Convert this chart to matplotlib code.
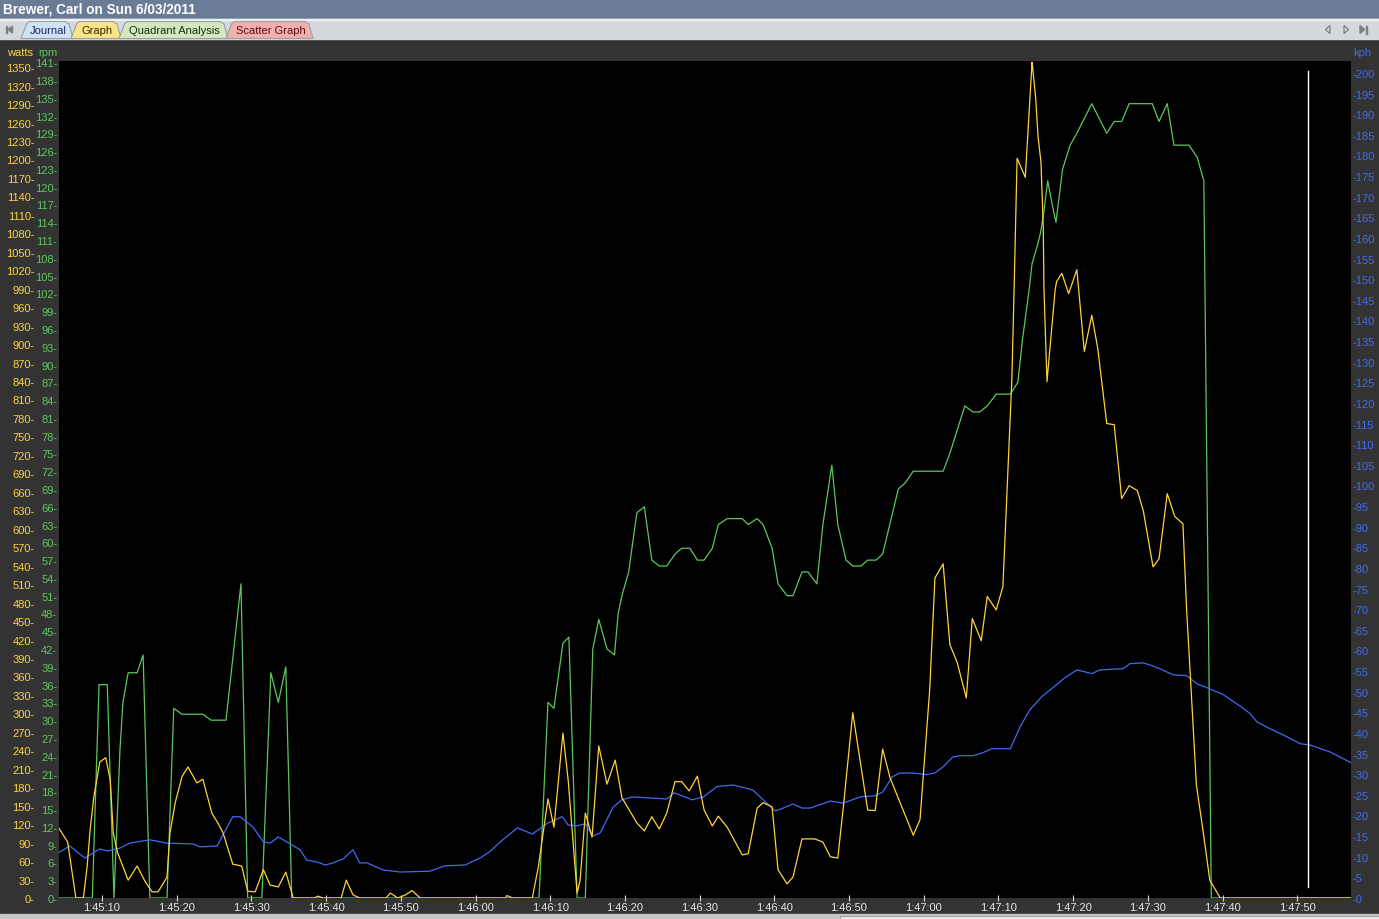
import matplotlib
matplotlib.use("Agg")
import matplotlib.pyplot as plt
from matplotlib.patches import Rectangle, Polygon

plt.rcParams['font.family'] = ['Liberation Sans', 'DejaVu Sans']

# Time is seconds after 1:45:00
watts_t = [4.2, 5.4, 6.5, 7.5, 8.0, 8.4, 8.9, 9.7, 10.5, 11.1,
           11.5, 12.1, 13.5, 14.7, 15.8, 16.7, 17.5, 18.7, 19.1, 19.8,
           20.7, 21.5, 22.7, 23.5, 24.7, 25.5, 26.2, 27.5, 28.7, 29.5,
           30.5, 31.6, 32.5, 33.6, 34.6, 35.6, 38.4, 38.9, 39.6, 42.0,
           42.7, 43.6, 44.5, 48.0, 48.6, 49.6, 50.6, 51.5, 52.6, 64.0,
           64.2, 65.0, 67.6, 68.4, 69.7, 70.5, 71.7, 72.4, 73.6, 74.0,
           74.7, 75.6, 76.5, 77.6, 78.7, 79.6, 81.6, 82.6, 83.6, 84.6,
           85.6, 86.7, 87.6, 88.6, 89.7, 90.6, 91.7, 92.5, 93.7, 95.7,
           96.5, 97.7, 98.5, 99.7, 100.5, 101.7, 102.5, 103.7, 105.4, 106.5,
           107.5, 108.5, 109.3, 110.5, 112.5, 113.5, 114.5, 115.5, 118.6, 119.5,
           120.8, 121.5, 122.6, 123.5, 124.5, 125.7, 126.5, 127.7, 128.5, 129.7,
           130.6, 131.8, 132.1, 132.5, 133.6, 133.8, 134.2, 134.5, 134.6, 135.0,
           135.3, 135.7, 136.0, 136.1, 136.5, 137.6, 137.8, 138.5, 139.4, 140.5,
           141.5, 142.5, 143.3, 144.5, 145.5, 146.5, 147.5, 148.6, 149.4, 150.7,
           151.5, 152.6, 153.6, 154.7, 155.2, 155.6, 156.5, 157.3, 158.3, 159.7,
           177.2]
watts = [114, 91, 0, 0, 50, 110, 164, 221, 228, 192,
         106, 73, 29, 52, 26, 10, 10, 34, 106, 155,
         197, 213, 187, 193, 138, 122, 106, 55, 52, 11,
         10, 46, 21, 18, 42, 0, 0, 3, 0, 0,
         29, 5, 0, 0, 8, 0, 5, 12, 0, 0,
         4, 0, 0, 50, 161, 115, 268, 192, 8, 29,
         138, 99, 247, 185, 224, 163, 122, 109, 132, 112,
         138, 189, 189, 174, 198, 143, 117, 133, 115, 70,
         72, 146, 155, 148, 46, 23, 34, 96, 96, 91,
         67, 65, 155, 301, 143, 142, 242, 195, 102, 127,
         338, 520, 543, 412, 382, 325, 454, 418, 490, 468,
         506, 843, 989, 1202, 1171, 1212, 1293, 1358, 1347, 1298,
         1238, 1195, 1091, 989, 839, 989, 1002, 1015, 982, 1021,
         888, 947, 893, 771, 769, 649, 670, 662, 629, 538,
         551, 657, 620, 608, 467, 381, 184, 117, 29, 0,
         0]

rpm_t = [4.2, 8.7, 9.6, 10.7, 11.6, 12.4, 12.8, 13.5, 14.7, 15.5,
         16.4, 18.7, 19.6, 20.7, 23.5, 24.6, 26.6, 28.6, 29.5, 31.4,
         32.6, 33.6, 34.6, 35.4, 68.5, 69.7, 70.5, 71.7, 72.5, 73.6,
         74.7, 75.7, 76.5, 77.6, 78.6, 79.1, 79.6, 80.5, 81.6, 82.6,
         83.6, 84.6, 85.6, 86.7, 87.6, 88.7, 89.7, 90.6, 91.7, 92.5,
         93.7, 95.7, 96.5, 97.7, 98.5, 99.7, 100.5, 101.7, 102.5, 103.7,
         104.5, 105.7, 106.5, 107.7, 108.5, 109.6, 110.5, 111.6, 112.5, 113.6,
         114.5, 116.6, 117.5, 118.6, 122.6, 123.5, 125.5, 126.6, 127.5, 128.5,
         129.7, 131.6, 132.6, 133.2, 134.1, 134.5, 135.2, 135.6, 136.0, 136.3,
         136.6, 137.2, 137.7, 138.0, 138.5, 138.6, 139.6, 140.5, 141.3, 142.5,
         143.5, 144.5, 145.5, 146.5, 147.5, 150.6, 151.5, 152.6, 153.5, 155.5,
         156.6, 157.5, 158.5, 177.2]
rpm = [0, 0, 36, 36, 0, 25, 33, 38, 38, 41,
       0, 0, 32, 31, 31, 30, 30, 53, 0, 0,
       38, 33, 39, 0, 0, 33, 32, 43, 44, 0,
       0, 42, 47, 42, 41, 48, 51, 55, 65, 66,
       57, 56, 56, 58, 59, 59, 57, 57, 59, 63,
       64, 64, 63, 64, 63, 59, 53, 51, 51, 55,
       55, 53, 63, 73, 63, 57, 56, 56, 57, 57,
       58, 69, 70, 72, 72, 75, 83, 82, 82, 83,
       85, 85, 87, 94, 102.5, 107, 110, 112, 115, 118,
       121, 117, 114, 117, 122, 123, 127, 129, 131, 134,
       131.5, 129, 131, 131, 134, 134, 131, 134, 127, 127,
       125, 121, 0, 0]

kph_t = [4.2, 5.7, 7.7, 9.7, 10.7, 12.4, 13.7, 16.4, 18.7, 22.2,
         23.1, 25.4, 27.5, 28.5, 30.2, 31.6, 32.5, 33.6, 35.2, 36.5,
         37.4, 38.8, 39.9, 40.9, 42.3, 43.6, 44.5, 45.5, 47.6, 49.9,
         53.9, 55.9, 58.6, 60.6, 61.9, 63.3, 65.6, 67.6, 69.7, 71.6,
         72.4, 73.6, 74.7, 75.7, 76.7, 78.4, 79.6, 81.0, 85.6, 86.6,
         87.6, 89.0, 90.5, 92.3, 94.5, 97.1, 99.0, 100.1, 101.2, 102.5,
         103.7, 104.8, 107.5, 109.2, 111.5, 113.5, 114.5, 115.8, 116.8, 118.6,
         120.4, 121.5, 122.6, 123.9, 124.9, 126.6, 127.9, 129.1, 131.6, 132.9,
         134.2, 135.8, 137.3, 138.9, 140.5, 142.5, 143.6, 146.7, 147.6, 149.4,
         150.6, 151.6, 153.4, 155.2, 156.6, 157.9, 160.1, 162.3, 163.7, 164.6,
         166.4, 168.6, 170.4, 171.7, 174.4, 177.2]
kph = [11.0, 12.6, 9.7, 11.9, 11.4, 12.1, 13.3, 14.1, 13.3, 13.1,
       12.4, 12.6, 19.7, 19.7, 17.2, 13.6, 13.3, 14.8, 13.1, 11.7,
       9.2, 8.7, 8.0, 8.5, 9.5, 11.7, 8.5, 8.5, 6.8, 6.3,
       6.5, 7.8, 8.0, 9.7, 11.2, 13.6, 17.0, 15.5, 18.2, 19.7,
       17.7, 17.5, 18.0, 15.0, 15.8, 22.0, 23.8, 24.5, 24.0, 25.5,
       24.8, 23.8, 24.5, 27.0, 27.4, 26.2, 23.0, 21.1, 21.8, 22.8,
       21.8, 21.8, 23.5, 23.0, 24.5, 24.8, 25.7, 29.4, 30.3, 30.3,
       29.9, 30.3, 31.8, 34.2, 34.5, 34.5, 35.2, 36.2, 36.2, 41.5,
       45.6, 48.8, 51.0, 53.4, 55.3, 54.4, 55.3, 55.6, 56.8, 57.0,
       56.3, 55.6, 54.1, 53.9, 51.9, 51.0, 49.3, 46.6, 44.7, 42.7,
       41.0, 39.1, 37.4, 37.1, 35.4, 32.8]

cursor_t = 171.4
time_ticks = list(range(10, 171, 10))
time_labels = ["1:%02d:%02d" % (45 + s // 60, s % 60) for s in time_ticks]
watts_ticks = list(range(0, 1351, 30))
rpm_ticks = list(range(0, 142, 3))
kph_ticks = list(range(0, 201, 5))

YELLOW = '#ffd23c'
GREEN = '#5cc85c'
BLUE = '#3f6af2'
PANEL = '#333333'

W, H = 1379, 920
fig = plt.figure(figsize=(W / 100, H / 100), dpi=100)
fig.patch.set_facecolor(PANEL)

# window chrome drawn in pixel coordinates
bg = fig.add_axes([0, 0, 1, 1])
bg.set_xlim(0, W)
bg.set_ylim(H, 0)
bg.axis('off')
bg.add_patch(Rectangle((0, 0), W, 19.5, color='#6a7c95'))
bg.text(3, 9, "Brewer, Carl on Sun 6/03/2011", color='white', fontweight='bold',
        fontsize=9.8, va='center', ha='left')
bg.add_patch(Rectangle((0, 19.5), W, 20, color='#d5d8dc'))
bg.add_patch(Rectangle((0, 19.5), W, 1, color='#eef0f2'))

tabs = [("Journal", 21, 73, '#cfe3f6', '#1c2a66'),
        ("Graph", 71, 121, '#fbe38a', '#3a2a00'),
        ("Quadrant Analysis", 119, 228, '#d4e8bf', '#1d2e12'),
        ("Scatter Graph", 226, 313, '#f3aeae', '#5a1010')]
for name, x0, x1, fc, tc in tabs:
    bg.add_patch(Polygon([(x0, 39.5), (x0 + 6, 24), (x0 + 9, 22.5), (x1 - 8, 22.5),
                          (x1 - 4, 25), (x1, 39.5)],
                         closed=True, fc=fc, ec='#9aa0a8', lw=0.8))
    bg.text((x0 + x1) / 2 + 1, 31.5, name, color=tc, fontsize=8, ha='center', va='center')

bg.add_patch(Rectangle((6, 27), 1.3, 7, color='#808080'))
bg.add_patch(Polygon([(12.5, 27), (8, 30.5), (12.5, 34)], color='#808080'))
bg.add_patch(Polygon([(1330, 26.5), (1325.5, 30.5), (1330, 34.5)], fill=False, ec='#808080', lw=0.9))
bg.add_patch(Polygon([(1344, 26.5), (1348.5, 30.5), (1344, 34.5)], fill=False, ec='#808080', lw=0.9))
bg.add_patch(Polygon([(1360, 26.5), (1364.5, 30.5), (1360, 34.5)], color='#808080'))
bg.add_patch(Rectangle((1365.5, 26.5), 1.3, 8, color='#808080'))

bg.add_patch(Rectangle((0, 915), W, 5, color='#c4c6c8'))
bg.add_patch(Rectangle((840, 916.5), 539, 4, fc='#ededed', ec='#a0a0a0', lw=0.8))

bg.text(7, 53, "watts", color=YELLOW, fontsize=8, va='center', ha='left')
bg.text(38, 53, "rpm", color=GREEN, fontsize=8, va='center', ha='left')
bg.text(1353, 53, "kph", color=BLUE, fontsize=8, va='center', ha='left')

# plot area
rect = [59 / W, (H - 899) / H, (1351 - 59) / W, (899 - 62) / H]
ax_r = fig.add_axes(rect)
ax_r.set_facecolor('black')
ax_k = ax_r.twinx()
ax_w = ax_r.twinx()
for a, z in ((ax_r, 1), (ax_k, 2), (ax_w, 3)):
    a.set_zorder(z)
    for s in a.spines.values():
        s.set_visible(False)
ax_k.patch.set_visible(False)
ax_w.patch.set_visible(False)

ax_r.plot(rpm_t, rpm, color=GREEN, lw=0.9)
ax_k.plot(kph_t, kph, color=BLUE, lw=0.9)
ax_w.plot(watts_t, watts, color=YELLOW, lw=0.9)
ax_w.axvline(cursor_t, ymin=0.013, ymax=0.988, color='white', lw=1)

ax_r.set_xlim(4.24, 177.2)
ax_r.set_ylim(0, 141.2)
ax_k.set_ylim(0, 202.9)
ax_w.set_ylim(0, 1360)

ax_r.set_xticks(time_ticks)
ax_r.set_xticklabels(time_labels)
ax_r.tick_params(axis='x', direction='inout', length=4, width=0.8, color='#dddddd',
                 labelcolor='#e8e8e8', labelsize=8, pad=1.0)

ax_r.yaxis.tick_left()
ax_r.set_yticks(rpm_ticks)
ax_r.set_yticklabels(["%d-" % v for v in rpm_ticks])
ax_r.tick_params(axis='y', length=0, pad=1.2, labelcolor=GREEN, labelsize=8)

ax_w.yaxis.tick_left()
ax_w.set_yticks(watts_ticks)
ax_w.set_yticklabels(["%d-" % v for v in watts_ticks])
ax_w.tick_params(axis='y', length=0, pad=17.5, labelcolor=YELLOW, labelsize=8)

ax_k.yaxis.tick_right()
ax_k.set_yticks(kph_ticks)
ax_k.set_yticklabels(["-%d" % v for v in kph_ticks])
ax_k.tick_params(axis='y', length=0, pad=1.2, labelcolor=BLUE, labelsize=8)

fig.savefig('out.png', dpi=100, facecolor=fig.get_facecolor())
